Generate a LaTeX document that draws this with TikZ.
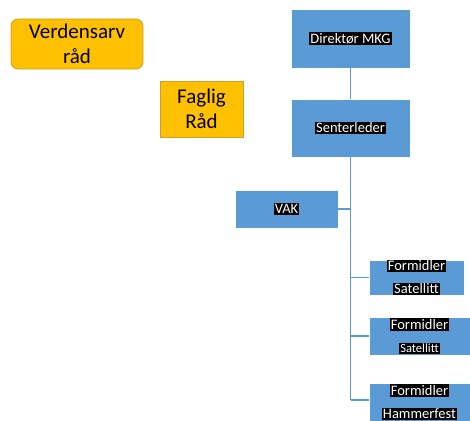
\documentclass[tikz,border=0pt]{standalone}
\usepackage{fontspec}
\setmainfont{Carlito}
\usepackage{tikz}
\usetikzlibrary{positioning, calc}

\definecolor{gul}{HTML}{FFC000}
\definecolor{gulkant}{HTML}{C9A12E}
\definecolor{blaa}{HTML}{5B9BD5}

\setlength{\fboxsep}{1pt}
\newcommand{\hlt}[1]{\colorbox{black}{\textcolor{white}{#1}}}

\tikzset{
  raad/.style={fill=gul, draw=gulkant, line width=0.8pt, inner sep=0pt, align=center,
    font=\fontsize{21}{25.5}\selectfont},
  enhet/.style={fill=blaa, draw=white, line width=0.8pt, inner sep=0pt, align=center,
    font=\fontsize{14.5}{23}\selectfont},
  linje/.style={draw=blaa, line width=1.6pt}
}

\begin{document}
\begin{tikzpicture}[x=1pt, y=-1pt]
\useasboundingbox (0,0) rectangle (470,420);
% raad
\node[raad, rounded corners=7pt, minimum width=132pt, minimum height=50pt] (verden) at (77,44) {Verdensarv\\råd};
\node[raad, minimum width=83pt, minimum height=56pt] (faglig) at (201.5,109) {Faglig\\Råd};
% ledelse
\node[enhet, minimum width=119pt, minimum height=59pt] (dir) at (350.5,38.5) {\hlt{Direktør MKG}};
\node[enhet, minimum width=119pt, minimum height=58pt] (leder) at (350.5,128) {\hlt{Senterleder}};
\node[enhet, minimum width=103pt, minimum height=38pt] (vak) at (286.5,209) {\hlt{VAK}};
% formidlere
\node[enhet, minimum width=95pt, minimum height=25pt] (sat1) at (416.5,277.5) {\hlt{Formidler}\\\hlt{Satellitt}};
\node[enhet, minimum width=101pt, minimum height=38pt] (sat2) at (419.5,336) {\hlt{Formidler}\\{\fontsize{12.5}{14}\selectfont\hlt{Satellitt}}};
\node[enhet, minimum width=101pt, minimum height=38pt] (hfest) at (419.5,402) {\hlt{Formidler}\\\hlt{Hammerfest}};
\coordinate (bunn) at (350.5,400);

% linjer
\draw[linje] (dir) -- (leder);
\draw[linje] (leder) -- (bunn);
\draw[linje] (vak.east) -- (vak.east -| bunn);
\foreach \n in {sat1, sat2} {
  \draw[linje] (\n.west) -- (\n.west -| bunn);
}
\draw[linje] (bunn) -- (bunn -| hfest.west);
\end{tikzpicture}
\end{document}
